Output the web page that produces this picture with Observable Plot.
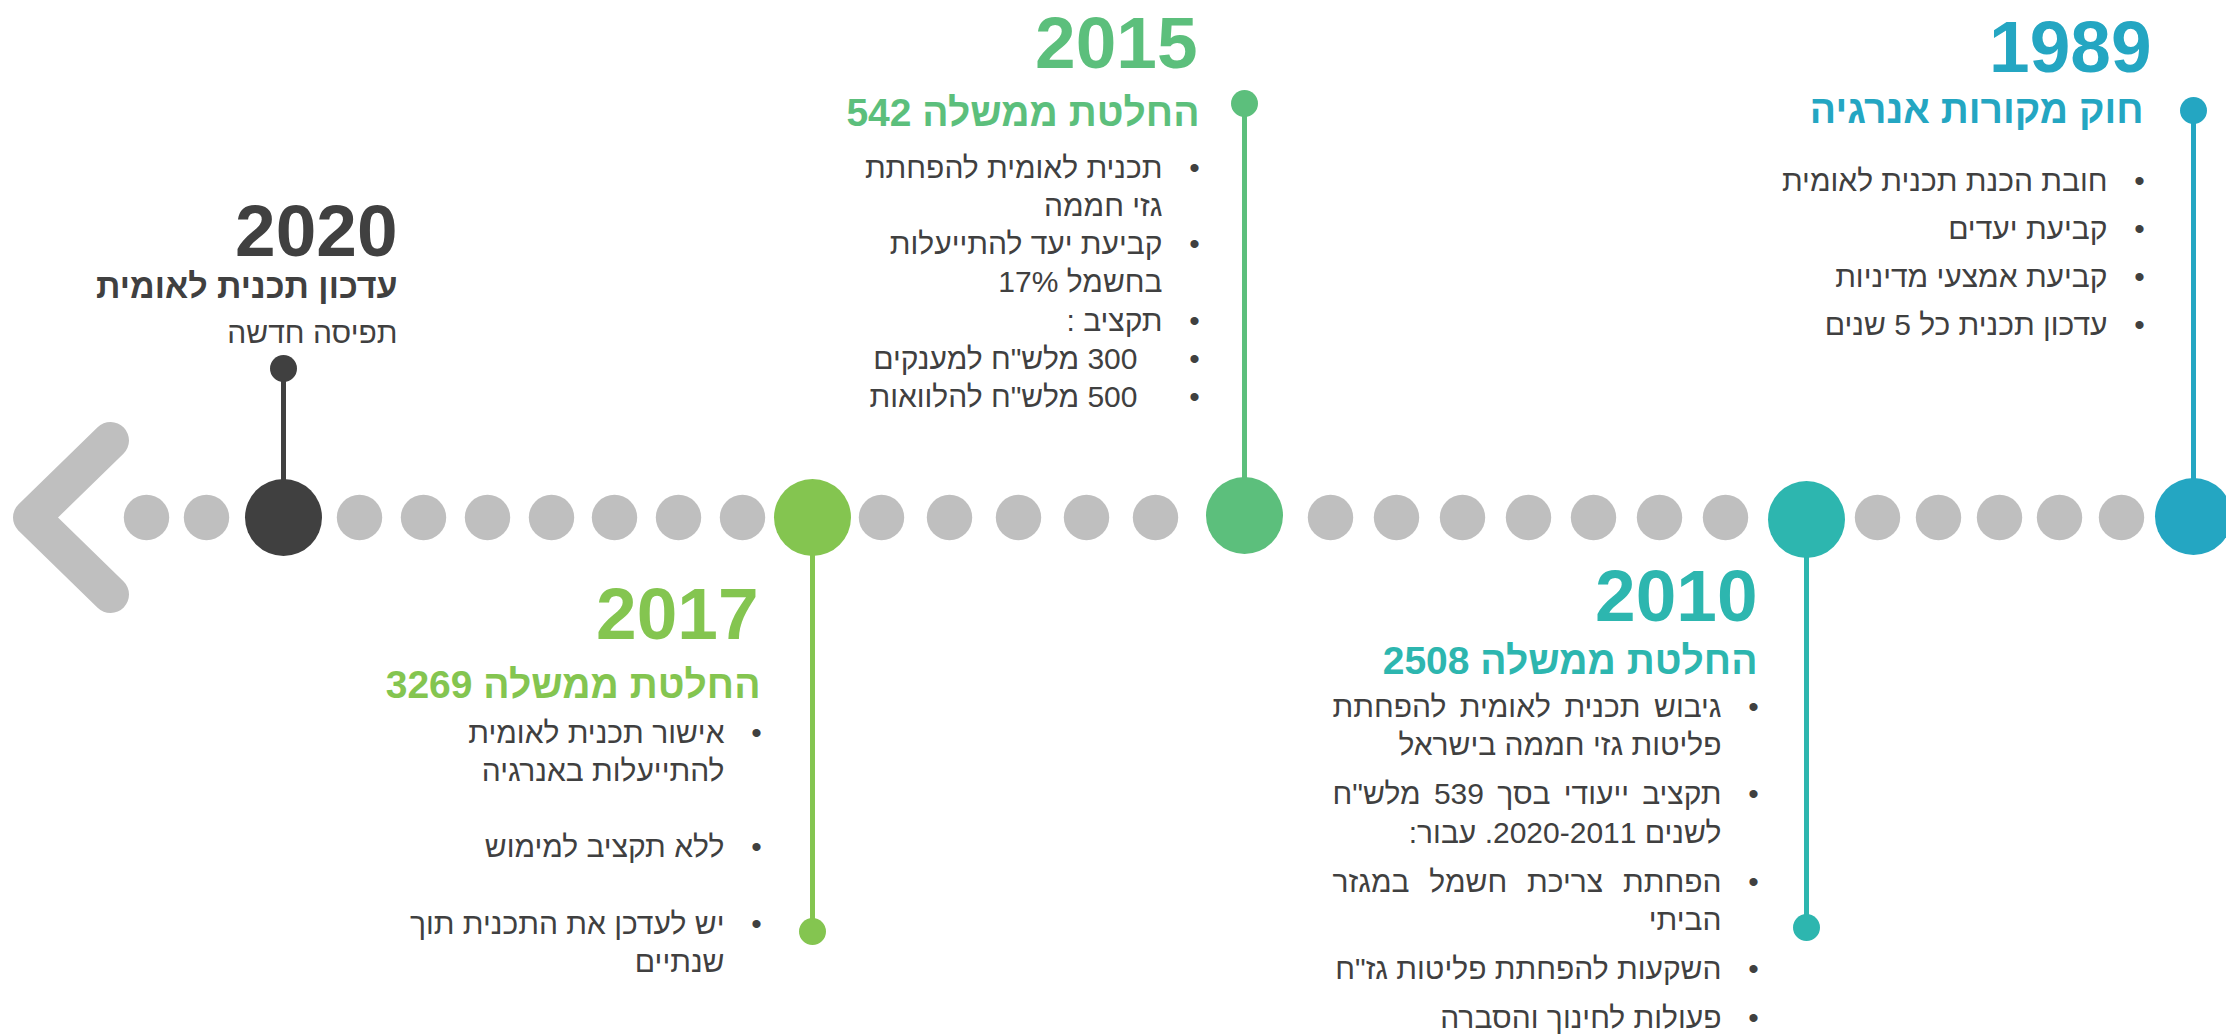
<!DOCTYPE html>
<html><head><meta charset="utf-8">
<script src="https://cdn.jsdelivr.net/npm/d3@7"></script>
<script src="https://cdn.jsdelivr.net/npm/@observablehq/plot@0.6"></script>
<style>html,body{margin:0;padding:0;background:#fff;overflow:hidden}</style>
</head><body><div id="chart"></div>
<script>
// ---------- content ----------
const years   = ["2020", "2017", "2015", "2010", "1989"];
const colors  = ["#404040", "#84C550", "#5CBF7C", "#2DB6AF", "#24A6C2"];
const titles  = ["עדכון תכנית לאומית", "החלטת ממשלה 3269", "החלטת ממשלה 542", "החלטת ממשלה 2508", "חוק מקורות אנרגיה"];
const notes2020 = ["תפיסה חדשה"];
const bullets2017 = [["אישור תכנית לאומית", "להתייעלות באנרגיה"], ["ללא תקציב למימוש"], ["יש לעדכן את התכנית תוך", "שנתיים"]];
const bullets2015 = [["תכנית לאומית להפחתת", "גזי חממה"], ["קביעת יעד להתייעלות", "בחשמל 17%"], ["תקציב :"], ["300 מלש\"ח למענקים"], ["500 מלש\"ח להלוואות"]];
const bullets2010 = [["גיבוש תכנית לאומית להפחתת", "פליטות גזי חממה בישראל"], ["תקציב ייעודי בסך 539 מלש\"ח", "לשנים 2020-2011. עבור:"], ["הפחתת צריכת חשמל במגזר", "הביתי"], ["השקעות להפחתת פליטות גז\"ח"], ["פעולות לחינוך והסברה"]];
const bullets1989 = [["חובת הכנת תכנית לאומית"], ["קביעת יעדים"], ["קביעת אמצעי מדיניות"], ["עדכון תכנית כל 5 שנים"]];
const bulletLists = [null, bullets2017, bullets2015, bullets2010, bullets1989];

// ---------- layout (canvas units) ----------
const W = 2226, H = 1036;
const lineY = 517;
const bigX = [283, 812, 1244, 1806, 2193];
const bigY = [517, 517, 515, 519, 516];
const stemEndY = [368, 931, 103, 927, 110];
const greyX = [146, 206, 359, 423, 487, 551, 614, 678, 742, 881, 949, 1018, 1086, 1155, 1330, 1396, 1462, 1528, 1593, 1659, 1725, 1877, 1938, 1999, 2059, 2121];
const chevron = [{x: 110, y: 440}, {x: 31, y: 517}, {x: 110, y: 594}];
const yearRight = [397, 758, 1197, 1757, 2151];
const yearBase  = [255, 638, 67, 620, 71];
const titleRight = [397, 760, 1199, 1757, 2143];
const titleBase  = [297, 697, 125, 673, 122];
const titleSize  = [34, 39, 39, 39, 39];
const bulletX = [null, 756, 1194, 1753, 2139];
const firstBase = [342, 742, 177, 716, 190];
const lineGap = [38, 38, 38.3, 38.5, 38];
const paraGap = [38, 76.5, 38.3, 49, 48];
const indent2015 = [0, 0, 0, 25, 25];
const justifyLines = new Set(["גיבוש תכנית לאומית להפחתת", "תקציב ייעודי בסך 539 מלש\"ח", "הפחתת צריכת חשמל במגזר"]);
const justifyLeft = 1332, justifyRight = 1721;

const RLE = "\u202B", PDF = "\u202C";
const rtl = s => RLE + s + PDF;

// ---------- derived tables ----------
const milestones = years.map((y, i) => ({
  year: y, color: colors[i], title: titles[i],
  x: bigX[i], y: bigY[i], yEnd: stemEndY[i],
  yearRight: yearRight[i], yearBase: yearBase[i],
  titleRight: titleRight[i], titleBase: titleBase[i], titleSize: titleSize[i]
}));

const bodyLines = [];
const bulletDots = [];
notes2020.forEach((t, j) => bodyLines.push({x: titleRight[0], y: firstBase[0] + j * lineGap[0], text: t}));
bulletLists.forEach((list, i) => {
  if (!list) return;
  let y = firstBase[i];
  list.forEach((lines, bi) => {
    if (bi > 0) y += paraGap[i];
    bulletDots.push({x: bulletX[i], y});
    const ind = i === 2 ? indent2015[bi] : 0;
    lines.forEach((t, li) => {
      if (li > 0) y += lineGap[i];
      bodyLines.push({x: bulletX[i] - 32 - ind, y, text: t});
    });
  });
});

const font = "'Liberation Sans', Arial, 'DejaVu Sans', sans-serif";
const bodySize = 30;

const plot = Plot.plot({
  width: W, height: H,
  margin: 0,
  x: {domain: [0, W], range: [0, W], axis: null},
  y: {domain: [0, H], range: [0, H], axis: null},
  color: {type: "identity"},
  style: {fontFamily: font, background: "#fff", color: "#404040"},
  marks: [
    Plot.line(chevron, {x: "x", y: "y", stroke: "#BFBFBF", strokeWidth: 37, strokeLinecap: "round", strokeLinejoin: "round"}),
    Plot.link(milestones, {x1: "x", x2: "x", y1: "y", y2: "yEnd", stroke: "color", strokeWidth: 5}),
    Plot.dot(greyX, {x: d => d, y: () => lineY, r: 22.7, fill: "#BFBFBF", stroke: null}),
    Plot.dot(milestones, {x: "x", y: "y", r: 38.5, fill: "color", stroke: null}),
    Plot.dot(milestones, {x: "x", y: "yEnd", r: 13.5, fill: "color", stroke: null}),
    Plot.text(milestones, {x: "yearRight", y: "yearBase", text: "year", fill: "color", fontSize: 73, fontWeight: "bold", textAnchor: "end", lineAnchor: "bottom"}),
    Plot.text(milestones.filter(d => d.titleSize === 39), {x: "titleRight", y: "titleBase", text: d => rtl(d.title), fill: "color", fontSize: 39, fontWeight: "bold", textAnchor: "end", lineAnchor: "bottom"}),
    Plot.text(milestones.filter(d => d.titleSize !== 39), {x: "titleRight", y: "titleBase", text: d => rtl(d.title), fill: "color", fontSize: 34, fontWeight: "bold", textAnchor: "end", lineAnchor: "bottom"}),
    Plot.text(bodyLines, {x: "x", y: "y", text: d => rtl(d.text), fill: "#404040", fontSize: bodySize, textAnchor: "end", lineAnchor: "bottom"}),
    Plot.text(bulletDots, {x: "x", y: "y", text: () => "•", fill: "#404040", fontSize: bodySize, textAnchor: "middle", lineAnchor: "bottom"})
  ]
});
document.getElementById("chart").appendChild(plot);

// justify selected lines (word spacing) like the original text box
plot.querySelectorAll("text").forEach(el => {
  const raw = el.textContent.replace(/[\u202B\u202C]/g, "");
  if (justifyLines.has(raw)) {
    const natural = el.getBBox().width;
    const target = justifyRight - justifyLeft;
    const spaces = (raw.match(/ /g) || []).length;
    if (spaces > 0 && target > natural) el.style.wordSpacing = ((target - natural) / spaces) + "px";
  }
});
</script>
</body></html>
